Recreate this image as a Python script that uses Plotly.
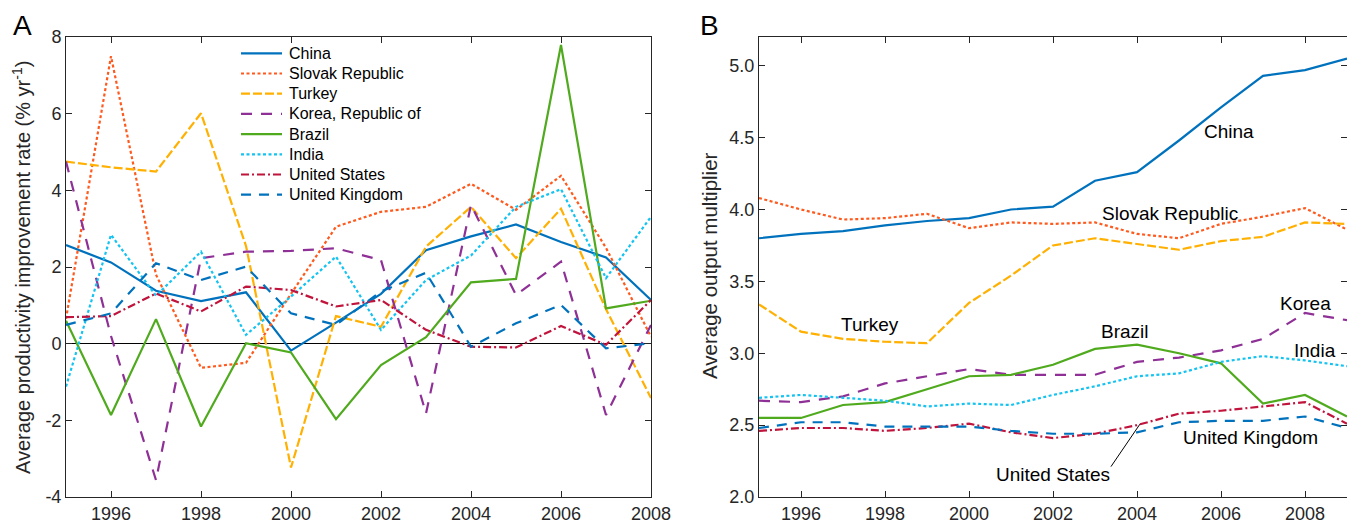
import plotly.graph_objects as go

years_a = list(range(1995, 2009))
years_b = list(range(1995, 2010))

# Panel A: productivity improvement rate (% per year)
china_a = [2.57, 2.12, 1.38, 1.11, 1.34, -0.18, 0.55, 1.3, 2.44, 2.8, 3.11, 2.65, 2.25, 1.14]
slovak_a = [0.65, 7.5, 1.8, -0.63, -0.5, 1.3, 3.05, 3.44, 3.57, 4.17, 3.49, 4.38, 2.5, 0.18]
turkey_a = [4.75, 4.6, 4.49, 6.01, 2.55, -3.23, 0.72, 0.44, 2.53, 3.57, 2.23, 3.52, 0.9, -1.42]
korea_a = [4.75, 0.2, -3.56, 2.23, 2.4, 2.42, 2.49, 2.18, -1.82, 3.62, 1.27, 2.14, -1.86, 0.49]
brazil_a = [0.6, -1.86, 0.64, -2.16, 0.01, -0.23, -1.97, -0.56, 0.17, 1.6, 1.69, 7.79, 0.92, 1.12]
india_a = [-1.12, 2.84, 1.25, 2.4, 0.23, 1.23, 2.27, 0.36, 1.66, 2.3, 3.57, 4.03, 1.71, 3.31]
us_a = [0.69, 0.72, 1.31, 0.84, 1.49, 1.4, 0.97, 1.14, 0.36, -0.08, -0.1, 0.46, -0.03, 1.14]
uk_a = [0.49, 0.79, 2.1, 1.66, 2.01, 0.79, 0.49, 1.36, 1.85, -0.08, 0.53, 1.01, -0.12, 0.01]

# Panel B: average output multiplier
china_b = [3.80, 3.83, 3.85, 3.89, 3.92, 3.94, 4.00, 4.02, 4.20, 4.26, 4.48, 4.71, 4.93, 4.97, 5.05]
slovak_b = [4.08, 4.00, 3.93, 3.94, 3.97, 3.87, 3.91, 3.90, 3.91, 3.83, 3.80, 3.90, 3.95, 4.01, 3.86]
turkey_b = [3.34, 3.15, 3.10, 3.08, 3.07, 3.35, 3.54, 3.75, 3.80, 3.76, 3.72, 3.78, 3.81, 3.91, 3.90]
korea_b = [2.67, 2.66, 2.70, 2.79, 2.84, 2.89, 2.85, 2.85, 2.85, 2.94, 2.97, 3.02, 3.10, 3.28, 3.23]
brazil_b = [2.55, 2.55, 2.64, 2.66, 2.75, 2.84, 2.85, 2.92, 3.03, 3.06, 3.00, 2.93, 2.65, 2.71, 2.56]
india_b = [2.69, 2.71, 2.69, 2.67, 2.63, 2.65, 2.64, 2.71, 2.77, 2.84, 2.86, 2.94, 2.98, 2.95, 2.91]
us_b = [2.46, 2.48, 2.48, 2.46, 2.48, 2.51, 2.45, 2.41, 2.44, 2.50, 2.58, 2.60, 2.63, 2.66, 2.51]
uk_b = [2.48, 2.52, 2.52, 2.49, 2.49, 2.49, 2.46, 2.44, 2.44, 2.45, 2.52, 2.53, 2.53, 2.56, 2.48]

names = ["China", "Slovak Republic", "Turkey", "Korea, Republic of", "Brazil",
         "India", "United States", "United Kingdom"]
series_a = [china_a, slovak_a, turkey_a, korea_a, brazil_a, india_a, us_a, uk_a]
series_b = [china_b, slovak_b, turkey_b, korea_b, brazil_b, india_b, us_b, uk_b]
colors = ["#0072BD", "#FF5A1E", "#FFB000", "#8E3096", "#50AA1E", "#14C3F0", "#C0143C", "#0072BD"]
dashes = ["solid", "3px,2.5px", "9px,3px", "11px,9px", "solid", "3px,2.5px",
          "8px,3px,2px,3px", "10px,8px"]

x_ticks = [1996, 1998, 2000, 2002, 2004, 2006, 2008]
ya_ticks = [-4, -2, 0, 2, 4, 6, 8]
ya_text = ["-4", "-2", "0", "2", "4", "6", "8"]
yb_ticks = [2.0, 2.5, 3.0, 3.5, 4.0, 4.5, 5.0]

FONT = "Liberation Sans, Arial, sans-serif"
W, H = 1347, 525
fig = go.Figure()

for n, ya, yb, c, d in zip(names, series_a, series_b, colors, dashes):
    fig.add_trace(go.Scatter(x=years_a, y=ya, name=n, mode="lines", showlegend=False,
                             line=dict(color=c, dash=d, width=2.2),
                             xaxis="x", yaxis="y"))
    fig.add_trace(go.Scatter(x=years_b, y=yb, name=n, mode="lines", showlegend=False,
                             line=dict(color=c, dash=d, width=2.2),
                             xaxis="x2", yaxis="y2"))

axis_common = dict(showline=True, mirror="ticks", linecolor="#262626", linewidth=1,
                   ticks="inside", ticklen=6, tickcolor="#262626", showgrid=False,
                   automargin=False,
                   tickfont=dict(size=18, color="#262626", family=FONT))

fig.update_layout(
    width=W, height=H,
    margin=dict(l=0, r=0, t=0, b=0, autoexpand=False),
    paper_bgcolor="white", plot_bgcolor="white",
    font=dict(family=FONT, color="#262626"),
    xaxis=dict(domain=[66 / W, 651 / W], range=[1995, 2008], tickvals=x_ticks,
               zeroline=False, anchor="y", **axis_common),
    yaxis=dict(domain=[1 - 497 / H, 1 - 37 / H], range=[-4, 8], tickvals=ya_ticks,
               ticktext=ya_text, zeroline=True, zerolinecolor="#000000", zerolinewidth=1.2,
               anchor="x", **axis_common),
    xaxis2=dict(domain=[759 / W, 1.0], range=[1995, 2009], tickvals=x_ticks,
                zeroline=False, anchor="y2", **axis_common),
    yaxis2=dict(domain=[1 - 497 / H, 1 - 37 / H], range=[2.0, 5.2], tickvals=yb_ticks,
                tickformat=".1f", zeroline=False, anchor="x2", **axis_common),
    showlegend=False,
)

ann = []
shapes = []
# panel labels
ann.append(dict(text="A", x=22.5 / W, y=1 - 25 / H, xref="paper", yref="paper",
                xanchor="center", yanchor="middle",
                showarrow=False, font=dict(size=28, color="#000000")))
ann.append(dict(text="B", x=709 / W, y=1 - 25 / H, xref="paper", yref="paper",
                xanchor="center", yanchor="middle",
                showarrow=False, font=dict(size=28, color="#000000")))
# axis titles
ann.append(dict(text="Average productivity improvement rate (% yr<sup>-1</sup>)",
                x=21 / W, y=1 - 268 / H, xref="paper", yref="paper", textangle=-90,
                xanchor="center", yanchor="middle",
                showarrow=False, font=dict(size=20, color="#262626")))
ann.append(dict(text="Average output multiplier",
                x=709 / W, y=1 - 266 / H, xref="paper", yref="paper", textangle=-90,
                xanchor="center", yanchor="middle",
                showarrow=False, font=dict(size=20.5, color="#262626")))

# legend for panel A (line samples + labels)
for i, (n, c, d) in enumerate(zip(names, colors, dashes)):
    ypx = 53.3 + 20.2 * i
    shapes.append(dict(type="line", xref="paper", yref="paper",
                       x0=241 / W, x1=282 / W, y0=1 - ypx / H, y1=1 - ypx / H,
                       line=dict(color=c, dash=d, width=2.2)))
    ann.append(dict(text=n, x=286.5 / W, y=1 - ypx / H, xref="paper", yref="paper",
                    xanchor="left", yanchor="middle", showarrow=False,
                    font=dict(size=16, color="#000000")))

labels_b = [("China", 2006.19, 4.545), ("Slovak Republic", 2004.79, 3.975),
            ("Turkey", 1997.64, 3.20), ("Brazil", 2003.72, 3.154),
            ("Korea", 2008.02, 3.349), ("India", 2008.24, 3.02),
            ("United Kingdom", 2006.71, 2.416), ("United States", 2001.99, 2.158)]
for t, lx, ly in labels_b:
    ann.append(dict(text=t, x=lx, y=ly, xref="x2", yref="y2", showarrow=False,
                    xanchor="center", yanchor="middle",
                    font=dict(size=19, color="#000000")))

# leader line for "United States"
ann.append(dict(text="", x=2004.07, y=2.507, xref="x2", yref="y2", showarrow=True,
                ax=-30, ay=44, arrowhead=0, arrowwidth=1, arrowcolor="#000000",
                standoff=0, startstandoff=0))

fig.update_layout(annotations=ann, shapes=shapes)
fig.write_html("out.html", config={"displayModeBar": False},
               post_script="document.body.style.margin='0';document.body.style.overflow='hidden';")
